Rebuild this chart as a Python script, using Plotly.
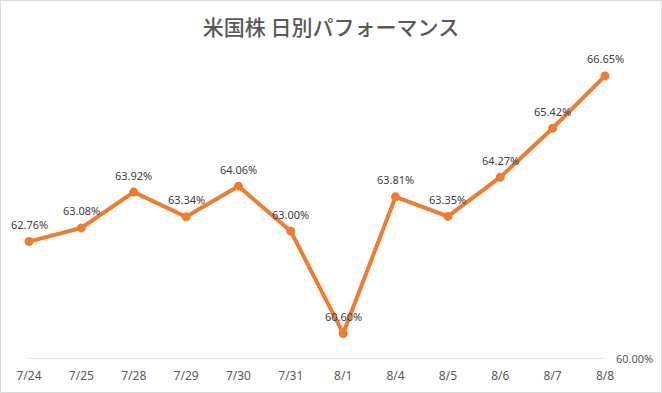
import plotly.graph_objects as go

categories = ["7/24", "7/25", "7/28", "7/29", "7/30", "7/31", "8/1", "8/4", "8/5", "8/6", "8/7", "8/8"]
values = [62.76, 63.08, 63.92, 63.34, 64.06, 63.00, 60.60, 63.81, 63.35, 64.27, 65.42, 66.65]
y_ticks = [60]
y_tick_labels = ["60.00%"]
title_text = "米国株 日別パフォーマンス"

W, H = 662, 393
L, R, T, B = 29, 57, 61, 34
pw, ph = W - L - R, H - T - B

fig = go.Figure()
fig.add_trace(go.Scatter(
    x=categories, y=values,
    mode="lines+markers",
    line=dict(color="#ED7D31", width=4),
    marker=dict(color="#ED7D31", size=9),
    cliponaxis=False,
    hoverinfo="skip",
))

annotations = [
    dict(x=c, y=v, xref="x", yref="y", text=f"{v:.2f}%", showarrow=False,
         yshift=17, font=dict(family="Noto Sans, sans-serif", size=11, color="#404040"))
    for c, v in zip(categories, values)
]

shapes = [
    dict(type="rect", xref="paper", yref="paper",
         x0=-(L - 0.5) / pw, x1=(W - 0.5 - L) / pw,
         y0=-(B - 0.5) / ph, y1=(H - 0.5 - B) / ph,
         line=dict(color="#D9D9D9", width=1), layer="below"),
]
for t in y_ticks:
    shapes.append(dict(type="line", xref="paper", yref="y", x0=0, x1=1, y0=t, y1=t,
                       line=dict(color="#D0D0D0", width=1.2), layer="below"))

fig.update_layout(
    width=W, height=H,
    margin=dict(l=L, r=R, t=T, b=B, autoexpand=False),
    paper_bgcolor="white", plot_bgcolor="white",
    showlegend=False,
    annotations=annotations,
    shapes=shapes,
    title=dict(text=title_text, x=0.5, xanchor="center", xref="container",
               y=1 - 28 / H, yanchor="middle", yref="container",
               font=dict(family="Noto Sans CJK JP, sans-serif", size=21, color="#595959", weight=500)),
    xaxis=dict(type="category", range=[0, 11], showgrid=False, showline=False, zeroline=False,
               automargin=False,
               ticks="", tickfont=dict(family="Noto Sans, sans-serif", size=12, color="#595959"),
               ticklabelstandoff=8),
    yaxis=dict(range=[60, 67], side="right", tickvals=y_ticks, ticktext=y_tick_labels,
               showgrid=False, zeroline=False, showline=False,
               automargin=False,
               ticks="", ticklabelstandoff=10,
               tickfont=dict(family="Noto Sans, sans-serif", size=11, color="#595959")),
)

fig.write_html("out.html", config={"displayModeBar": False},
               post_script="document.body.style.margin='0';document.body.style.overflow='hidden';")
